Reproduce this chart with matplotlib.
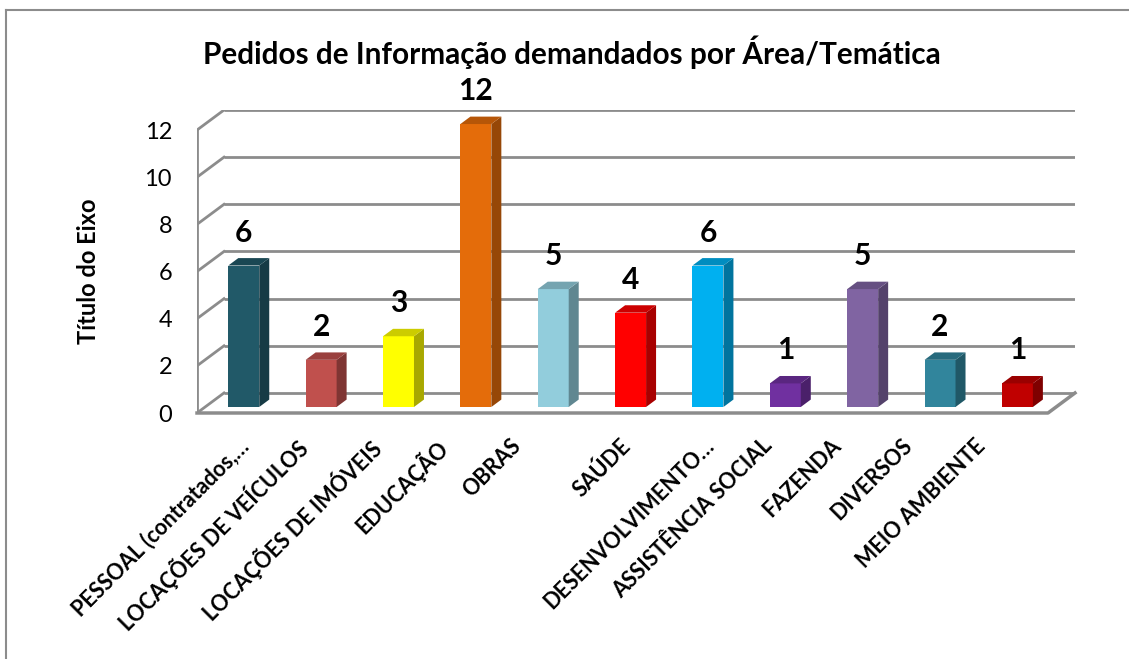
import matplotlib
matplotlib.use('Agg')
import matplotlib.pyplot as plt
from matplotlib.patches import Polygon
from matplotlib.lines import Line2D
from matplotlib.colors import to_rgb

plt.rcParams['font.family'] = ['Lato', 'DejaVu Sans']

# Data
categories = ['PESSOAL (contratados,…', 'LOCAÇÕES DE VEÍCULOS', 'LOCAÇÕES DE IMÓVEIS',
              'EDUCAÇÃO', 'OBRAS', 'SAÚDE', 'DESENVOLVIMENTO…', 'ASSISTÊNCIA SOCIAL',
              'FAZENDA', 'DIVERSOS', 'MEIO AMBIENTE']
values = [6, 2, 3, 12, 5, 4, 6, 1, 5, 2, 1]
yticks = [0, 2, 4, 6, 8, 10, 12]
colors = ['#215968', '#C0504D', '#FFFF00', '#E46C0A', '#92CDDC', '#FF0000',
          '#00B0F0', '#7030A0', '#8064A2', '#31859C', '#C00000']

# label fine shifts (pixels), Excel places them a bit irregularly
label_shift = [2, -18, -22, -33, -35, -3, 3, -16, -24, -31, -35]

W, H = 1129, 659
DX, DY = 0.349, 0.85      # depth offset of back wall (data units)
D0, D1 = 0.3, 0.67        # bar front / back depth fraction
BW = 0.4                  # bar width
grid_c = '#8c8c8c'

fig = plt.figure(figsize=(W / 100, H / 100), dpi=100)
fig.patch.set_facecolor('white')

# outer frame (top and left only visible)
fig.add_artist(Line2D([6 / W, 6 / W], [0, 1 - 10 / H], transform=fig.transFigure, color='#8c8c8c', lw=1.5))
fig.add_artist(Line2D([6 / W, 1], [1 - 10 / H, 1 - 10 / H], transform=fig.transFigure, color='#8c8c8c', lw=1.5))

ax = fig.add_axes([197 / W, (H - 413) / H, (1075 - 197) / W, (413 - 110) / H])
n = len(values)
ax.set_xlim(-0.5, n - 0.5 + DX)
ax.set_ylim(0, max(yticks) + DY)
for s in ax.spines.values():
    s.set_visible(False)
ax.set_xticks([])
ax.set_yticks(yticks)
ax.tick_params(axis='y', length=0, pad=18, labelsize=17)

# back wall + left wall gridlines
for v in yticks:
    ax.plot([-0.5 + DX, n - 0.5 + DX], [v + DY, v + DY], color=grid_c, lw=2, zorder=1, solid_capstyle='butt')
    ax.plot([-0.5, -0.5 + DX], [v, v + DY], color=grid_c, lw=2, zorder=1)
ax.plot([-0.5, -0.5], [0, max(yticks)], color=grid_c, lw=2, zorder=1)
# floor edges
ax.plot([-0.5, n - 0.5, n - 0.5 + DX], [0, 0, DY], color=grid_c, lw=2.5, zorder=1, clip_on=False)


def shade(c, f):
    r, g, b = to_rgb(c)
    return (r * f, g * f, b * f)


dd = D1 - D0
for i, (v, c) in enumerate(zip(values, colors)):
    xl = i - BW / 2 + D0 * DX
    xr = i + BW / 2 + D0 * DX
    yb = D0 * DY
    yt = v + D0 * DY
    front = Polygon([(xl, yb), (xr, yb), (xr, yt), (xl, yt)], closed=True, fc=c, ec='none', zorder=3)
    side = Polygon([(xr, yb), (xr + dd * DX, yb + dd * DY), (xr + dd * DX, yt + dd * DY), (xr, yt)],
                   closed=True, fc=shade(c, 0.66), ec='none', zorder=3)
    top = Polygon([(xl, yt), (xr, yt), (xr + dd * DX, yt + dd * DY), (xl + dd * DX, yt + dd * DY)],
                  closed=True, fc=shade(c, 0.8), ec='none', zorder=3)
    for p in (front, side, top):
        ax.add_patch(p)
    ax.annotate(str(v), (i + D0 * DX, yt), xytext=(0, 19), textcoords='offset pixels',
                ha='center', va='bottom', fontsize=21.5, fontweight='bold', zorder=4)
    ax.annotate(categories[i], (i, 0), xytext=(label_shift[i], -22), textcoords='offset pixels',
                ha='right', va='top', rotation=45, rotation_mode='anchor',
                fontsize=15.5, fontweight='bold', annotation_clip=False)

fig.text(572 / W, 1 - 52 / H, 'Pedidos de Informação demandados por Área/Temática',
         ha='center', va='center', fontsize=21.4, fontweight='bold')
fig.text(88 / W, 1 - 271 / H, 'Título do Eixo', ha='center', va='center', rotation=90,
         fontsize=17, fontweight='bold')

fig.savefig('out.png', dpi=100)
